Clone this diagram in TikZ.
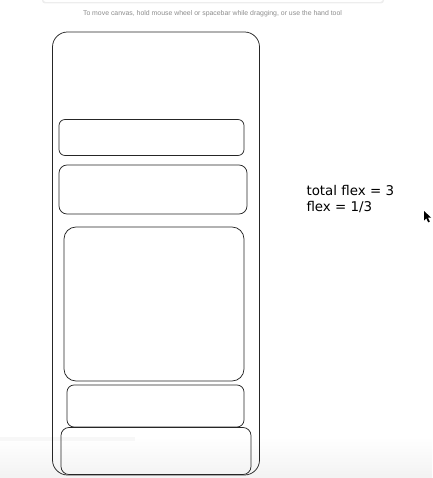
\documentclass[tikz,border=0pt]{standalone}
\usepackage{fontspec}
\setmainfont{Liberation Sans}
\newfontfamily\handfont{DejaVu Sans}
\begin{document}
\begin{tikzpicture}[x=1pt, y=-1pt]
\tikzstyle{every node}=[inner sep=0pt, outer sep=0pt]
\tikzstyle{box}=[draw=black!85, line width=0.75pt]
\tikzstyle{note}=[anchor=west, font=\handfont\fontsize{13.4}{14}\selectfont]
\useasboundingbox (0,0) rectangle (432,478);
% canvas chrome
\shade[top color=white, bottom color=black!5] (0,437) rectangle (432,478);
\fill[black!3] (0,437) rectangle (135,441);
\fill[black!7, rounded corners=3pt] (42,-6) rectangle (384,3.5);
\fill[white, rounded corners=3pt] (43,-6) rectangle (383,2);
\node[text=black!45, font=\fontsize{6.9}{8}\selectfont] (hint) at (212.5,14)
  {To move canvas, hold mouse wheel or spacebar while dragging, or use the hand tool};

% frame and flex children
\node[box, rounded corners=15pt, minimum width=207pt, minimum height=443pt] (frame) at (156,253.5) {};
\node[box, rounded corners=6pt, minimum width=185pt, minimum height=36pt] (c1) at (151.5,137.5) {};
\node[box, rounded corners=8pt, minimum width=188pt, minimum height=49pt] (c2) at (153,189.5) {};
\node[box, rounded corners=12pt, minimum width=180pt, minimum height=154pt] (c3) at (154,304) {};
\node[box, rounded corners=7pt, minimum width=177pt, minimum height=42pt] (c4) at (155.5,406) {};
\node[box, rounded corners=8pt, minimum width=190pt, minimum height=47pt] (c5) at (156,451) {};

\node[note] (total) at (306.5,191) {total flex = 3};
\node[note] (flex) at (306.5,207) {flex = 1/3};

% pointer
\fill[black] (424,211) -- (424,220.5) -- (426.3,218.3) -- (428.2,222.3) -- (429.8,221.6) -- (428,217.7) -- (431,217.5) -- cycle;
\end{tikzpicture}
\end{document}
